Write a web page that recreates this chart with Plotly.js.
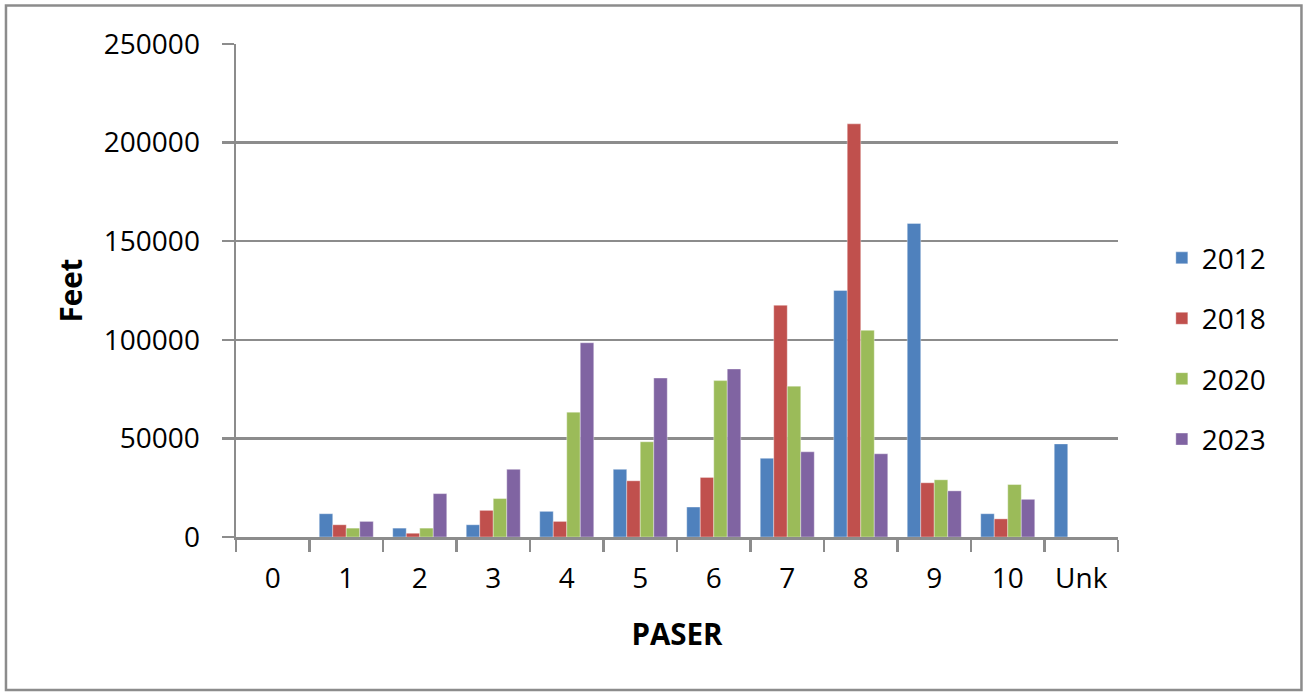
<!DOCTYPE html>
<html>
<head>
<meta charset="utf-8">
<script src="https://cdn.plot.ly/plotly-3.0.1.min.js"></script>
<style>html,body{margin:0;padding:0;background:#fff}#chart{width:1306px;height:692px}</style>
</head>
<body>
<div id="chart"></div>
<script>
const categories = ["0","1","2","3","4","5","6","7","8","9","10","Unk"];
const years = ["2012","2018","2020","2023"];
const v2012 = [0, 11800, 4500, 6200, 13000, 34300, 15200, 39900, 125000, 159000, 11800, 47200];
const v2018 = [0, 6200, 1900, 13500, 7900, 28500, 30200, 117500, 209500, 27500, 9200, 0];
const v2020 = [0, 4500, 4500, 19500, 63300, 48300, 79300, 76500, 104800, 29000, 26600, 0];
const v2023 = [0, 7900, 22000, 34300, 98500, 80600, 85200, 43200, 42200, 23400, 19100, 0];
const colors = ["#4F81BD", "#C0504D", "#9BBB59", "#8064A2"];
const series = [v2012, v2018, v2020, v2023];

const FONT = '"Open Sans", "Noto Sans", sans-serif';
const traces = series.map((vals, i) => ({
  type: 'bar',
  name: years[i],
  x: categories,
  y: vals,
  legendgroup: 'g' + i,
  marker: {color: colors[i], line: {color: 'rgba(255,255,255,0.6)', width: 0.6}}
}));

const layout = {
  width: 1306, height: 692,
  margin: {l: 236, r: 188, t: 44, b: 155, pad: 0},
  paper_bgcolor: '#fff', plot_bgcolor: '#fff',
  font: {family: FONT, size: 28, color: '#000'},
  barmode: 'group', bargap: 0.265, bargroupgap: 0,
  showlegend: true,
  legend: {x: 1.0497, xanchor: 'left', y: 0.382, yanchor: 'middle',
           traceorder: 'grouped', tracegroupgap: 21,
           font: {family: FONT, size: 28, color: '#000'}, bgcolor: 'rgba(0,0,0,0)'},
  xaxis: {
    type: 'category',
    tickson: 'boundaries', ticks: 'outside', ticklen: 12, tickwidth: 2.5, tickcolor: '#8c8c8c',
    showline: true, linecolor: '#8c8c8c', linewidth: 2.5,
    showgrid: false, zeroline: false,
    tickfont: {family: FONT, size: 28, color: '#000'},
    ticklabelstandoff: 15,
    title: {text: '<b>PASER</b>', font: {family: FONT, size: 29.5, color: '#000'}, standoff: 30}
  },
  yaxis: {
    range: [0, 250000], dtick: 50000, tickformat: 'd',
    ticks: 'outside', ticklen: 12, tickwidth: 2.5, tickcolor: '#8c8c8c',
    showline: true, linecolor: '#8c8c8c', linewidth: 2.5,
    showgrid: true, gridcolor: '#8c8c8c', gridwidth: 2.5, zeroline: false,
    tickfont: {family: FONT, size: 28, color: '#000'},
    ticklabelstandoff: 16,
    title: {text: '<b>Feet</b>', font: {family: FONT, size: 29.5, color: '#000'}, standoff: 13}
  },
  shapes: [
    {type: 'rect', xref: 'paper', yref: 'paper',
     x0: -0.2608, x1: 1.2080, y0: -0.3103, y1: 1.0781,
     line: {color: '#8c8c8c', width: 2.5}, fillcolor: 'rgba(0,0,0,0)', layer: 'below'}
  ]
};

Plotly.newPlot('chart', traces, layout, {displayModeBar: false, staticPlot: true});
</script>
</body>
</html>
